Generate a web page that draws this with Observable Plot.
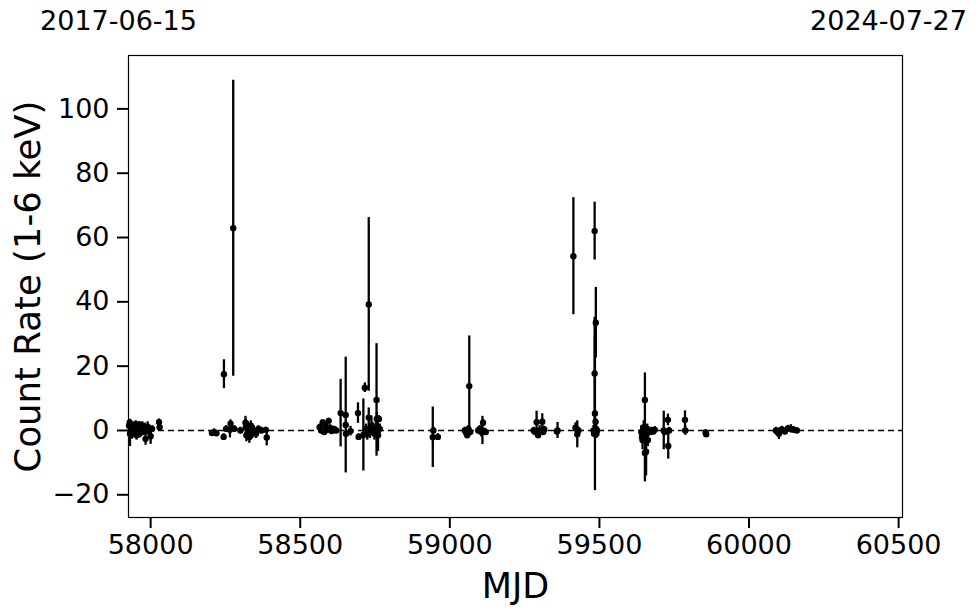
<!DOCTYPE html>
<html>
<head>
<meta charset="utf-8">
<script src="https://cdn.jsdelivr.net/npm/d3@7"></script>
<script src="https://cdn.jsdelivr.net/npm/@observablehq/plot@0.6"></script>
<style>
  html, body { margin: 0; padding: 0; background: #fff; }
  #chart { width: 980px; height: 613px; }
</style>
</head>
<body>
<div id="chart"></div>
<script>
// Observation epochs (MJD)
const mjd = [
  57928, 57930, 57931, 57935, 57938, 57942, 57945, 57950, 57953, 57958, 57962, 57965, 57968, 57972, 57975, 57980, 57983, 57986, 57990, 57993, 57998, 58000, 58005, 58028, 58030,
  58205, 58212, 58220, 58244, 58245, 58252, 58265, 58267, 58276, 58280, 58300, 58317, 58318, 58320, 58325, 58330, 58335, 58340, 58345, 58352, 58360, 58370, 58385, 58388,
  58565, 58570, 58575, 58580, 58585, 58590, 58595, 58600, 58605, 58612, 58620, 58635, 58652, 58652, 58653, 58668, 58693, 58695, 58711, 58716, 58720, 58724, 58729, 58729, 58733, 58738, 58742, 58748, 58752, 58755, 58756, 58758, 58760, 58763, 58766,
  58943, 58945, 58960,
  59050, 59055, 59058, 59062, 59065, 59068, 59095, 59100, 59105, 59109, 59111, 59115, 59120,
  59280, 59285, 59290, 59295, 59300, 59309, 59312, 59316,
  59358, 59360, 59413, 59420, 59426, 59430,
  59480, 59482, 59484, 59484, 59485, 59486, 59487, 59488, 59489, 59490, 59492,
  59640, 59642, 59644, 59646, 59648, 59650, 59652, 59652, 59654, 59656, 59658, 59660, 59662, 59665, 59670, 59675, 59680, 59685,
  59715, 59718, 59729, 59730, 59733, 59786, 59787, 59855, 59857,
  60090, 60095, 60100, 60110, 60120, 60130, 60140, 60150, 60160
];
// Count rate (1-6 keV)
const rate = [
  1.5, 2.5, -1, 0.5, -1.2, 1.0, -0.5, 2, -1.5, 0.8, 1.8, -0.8, 0.3, 1.5, -0.5, 0.8, -2.6, 0.5, 1.2, -0.3, 0.3, -1.8, 0.5, 2.6, 1,
  -0.8, -0.5, -0.9, -2, 17.5, 0.5, 0.2, 2.1, 62.9, 0.5, 0, 2.4, 1, -1.5, 0.8, -2, 1.5, -0.5, 0, -1, 0.5, 0, 0.2, -2.2,
  1, 0, 2.5, -0.5, 1.5, 0.2, 3, 0.8, -0.2, 0.5, 0, 5.4, 4.8, 1.7, -1, -0.2, 5.4, -2, -1.4, 13.3, 0.5, -1, 39.2, 4, -0.5, 1.5, 0.5, -1, 0.8, 9.5, 3.6, 0, -1.5, 3.6, 0.5,
  -2.1, 0, -2,
  0, -0.8, -1.5, 0.5, 13.8, -0.5, 0, 0.5, -0.5, 0, 2.4, -0.3, -0.5,
  0, -0.5, 2.6, -1.5, 0, 2.7, -0.5, 0.3,
  -0.3, 0, 54.2, 0.9, -1.2, 0,
  0, -1, 62, 17.7, 5.3, -0.7, 2.7, 33.5, 0.5, -1, 0,
  -0.5, -2, -3, 0, 1, -1.5, 9.5, -7, -0.5, -6.6, -1.2, 0.5, -3, 0, -0.5, 0, -0.3, 0.2,
  0, -0.5, 3.3, -4.8, 0, 3.3, 0, -0.7, -1.2,
  0, -0.5, -1, 0.3, -0.3, 0.6, 0.5, 0.2, 0
];
// 1-sigma errors
const err = [
  1.5, 1, 4, 1.5, 1.5, 1.2, 1.5, 1, 1.5, 1.2, 1, 1.5, 1, 1.2, 1, 1.5, 2, 1, 1.5, 1, 1, 2.5, 1, 1, 1.2,
  0.8, 1, 1, 1, 4.5, 1, 2.5, 1.2, 46, 1, 1, 2, 2.5, 2, 2, 2, 1.5, 2, 1.5, 1.5, 1, 1, 0.8, 2.6,
  1, 0.8, 0.8, 1, 1, 1, 0.8, 1, 1, 0.8, 1, 10.5, 18, 1, 1, 1.5, 3.2, 1, 11.2, 1.5, 1.5, 2, 27, 3, 2, 3, 2, 2, 1.5, 17.5, 2, 3, 5, 1, 1.5,
  9.4, 1, 1,
  1, 1.5, 1, 1, 15.6, 1, 1, 1, 1.5, 4.4, 1, 1, 1,
  1, 1, 3.4, 1, 1.5, 2.5, 1, 1,
  1, 2.5, 18.2, 1.5, 4.2, 1,
  1.5, 1, 9, 17.5, 24, 1.5, 1, 11, 1.5, 1.5, 1.2,
  2, 2, 3, 1.5, 2, 2.5, 8.4, 9, 1.5, 7.5, 2, 1.5, 2, 1, 1, 1, 1, 1,
  6, 1, 1.8, 4.1, 1, 2.8, 1.5, 1, 0.8,
  1, 1, 1.8, 1, 1, 1, 1.3, 1, 0.8
];
const xTicks = [58000, 58500, 59000, 59500, 60000, 60500];
const yTicks = [-20, 0, 20, 40, 60, 80, 100];
const startDate = "2017-06-15";
const endDate = "2024-07-27";
const xLabel = "MJD";
const yLabel = "Count Rate (1-6 keV)";

const data = mjd.map((m, i) => ({mjd: m, rate: rate[i], err: err[i]}));
const fmt = d => d < 0 ? "\u2212" + Math.abs(d) : String(d);

const chart = Plot.plot({
  width: 980,
  height: 613,
  marginLeft: 128,
  marginRight: 78,
  marginTop: 55,
  marginBottom: 96,
  style: {fontFamily: "DejaVu Sans", fontSize: "27px", color: "black", background: "white", overflow: "visible"},
  x: {domain: [57926, 60513]},
  y: {domain: [-27.06, 116.6]},
  marks: [
    Plot.ruleY([0], {stroke: "black", strokeWidth: 1.5, strokeDasharray: "6,4"}),
    Plot.ruleX(data, {x: "mjd", y1: d => d.rate - d.err, y2: d => d.rate + d.err, stroke: "black", strokeWidth: 2.3}),
    Plot.dot(data, {x: "mjd", y: "rate", r: 3.2, fill: "black", stroke: "none"}),
    Plot.frame({stroke: "black", strokeWidth: 1.2}),
    Plot.axisX({ticks: xTicks, tickSize: 11, tickPadding: 6, strokeWidth: 2, fontSize: 27, label: null, tickFormat: d => String(d)}),
    Plot.axisY({ticks: yTicks, tickSize: 11, tickPadding: 8, strokeWidth: 2, fontSize: 27, label: null, tickFormat: fmt}),
    Plot.text([xLabel], {frameAnchor: "bottom", dy: 69, fontSize: 35, text: d => d, textAnchor: "middle", lineAnchor: "middle"}),
    Plot.text([yLabel], {frameAnchor: "left", dx: -100, rotate: -90, fontSize: 35.5, text: d => d, textAnchor: "middle", lineAnchor: "middle"}),
    Plot.text([startDate], {frameAnchor: "top-left", dx: -10, dy: -34, fontSize: 27, text: d => d, textAnchor: "middle", lineAnchor: "middle"}),
    Plot.text([endDate], {frameAnchor: "top-right", dx: -14, dy: -34, fontSize: 27, text: d => d, textAnchor: "middle", lineAnchor: "middle"})
  ]
});
document.getElementById("chart").appendChild(chart);
</script>
</body>
</html>
